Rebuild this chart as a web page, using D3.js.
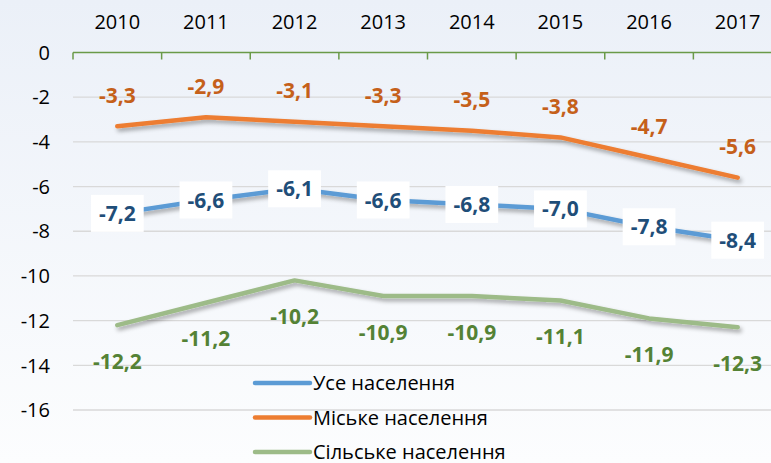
<!DOCTYPE html>
<html>
<head>
<meta charset="utf-8">
<script src="https://cdn.jsdelivr.net/npm/d3@7"></script>
<style>
  body { margin: 0; }
  svg { display: block; font-family: "Open Sans", "Noto Sans", sans-serif; }
</style>
</head>
<body>
<div id="container"></div>
<script>
/* DATA */
const years = ["2010", "2011", "2012", "2013", "2014", "2015", "2016", "2017"]
const allPop = [-7.2, -6.6, -6.1, -6.6, -6.8, -7.0, -7.8, -8.4]
const urbanPop = [-3.3, -2.9, -3.1, -3.3, -3.5, -3.8, -4.7, -5.6]
const ruralPop = [-12.2, -11.2, -10.2, -10.9, -10.9, -11.1, -11.9, -12.3]
const yTicks = [0, -2, -4, -6, -8, -10, -12, -14, -16]
const seriesNames = ["Усе населення", "Міське населення", "Сільське населення"]

/* CONSTANTS */
const width = 771,
  height = 463,
  margin = { top: 52.5, left: 73, right: -11, bottom: 53 }

const fmt = v => d3.format(".1f")(v).replace(".", ",").replace("−", "-")

const svg = d3.select("#container")
  .append("svg")
  .attr("width", width)
  .attr("height", height)

const defs = svg.append("defs")
const grad = defs.append("linearGradient")
  .attr("id", "bg")
  .attr("x1", 0).attr("y1", 0).attr("x2", 0).attr("y2", 1)
grad.append("stop").attr("offset", "0%").attr("stop-color", "#ebf0f8")
grad.append("stop").attr("offset", "100%").attr("stop-color", "#fcfdfe")

const shadow = defs.append("filter")
  .attr("id", "shadow")
  .attr("x", "-10%").attr("y", "-50%").attr("width", "120%").attr("height", "200%")
shadow.append("feDropShadow")
  .attr("dx", 2).attr("dy", 3)
  .attr("stdDeviation", 2)
  .attr("flood-color", "#000")
  .attr("flood-opacity", 0.35)

svg.append("rect")
  .attr("width", width)
  .attr("height", height)
  .attr("fill", "url(#bg)")

/* SCALES */
const xScale = d3.scaleBand()
  .domain(years)
  .range([margin.left, width - margin.right])
  .padding(0)

const yScale = d3.scaleLinear()
  .domain([0, -16])
  .range([margin.top, height - margin.bottom])

const xc = d => xScale(d) + xScale.bandwidth() / 2

// gridlines
svg.append("g")
  .selectAll("line")
  .data(yTicks.filter(d => d !== 0))
  .join("line")
  .attr("x1", margin.left)
  .attr("x2", width)
  .attr("y1", d => yScale(d))
  .attr("y2", d => yScale(d))
  .attr("stroke", "#d9d9d9")
  .attr("stroke-width", 1.3)

// y labels
svg.append("g")
  .selectAll("text")
  .data(yTicks)
  .join("text")
  .attr("x", 50)
  .attr("y", d => yScale(d))
  .attr("dy", "0.36em")
  .attr("text-anchor", "end")
  .attr("font-size", 20)
  .attr("fill", "#000")
  .text(d => d === 0 ? "0" : String(d))

// category axis at zero, labels on top
const axisG = svg.append("g")
axisG.append("line")
  .attr("x1", margin.left)
  .attr("x2", width)
  .attr("y1", yScale(0))
  .attr("y2", yScale(0))
  .attr("stroke", "#6a9a48")
  .attr("stroke-width", 1.5)
axisG.selectAll("line.tick")
  .data(years)
  .join("line")
  .attr("class", "tick")
  .attr("x1", d => xScale(d))
  .attr("x2", d => xScale(d))
  .attr("y1", yScale(0))
  .attr("y2", yScale(0) + 7)
  .attr("stroke", "#6a9a48")
  .attr("stroke-width", 1.5)
axisG.selectAll("text")
  .data(years)
  .join("text")
  .attr("x", d => xc(d))
  .attr("y", 22)
  .attr("dy", "0.36em")
  .attr("text-anchor", "middle")
  .attr("font-size", 20)
  .attr("fill", "#000")
  .text(d => d)

/* LINES */
const series = [
  { name: seriesNames[0], values: allPop, color: "#5b9bd5", label: "#1f4e79", pos: "center" },
  { name: seriesNames[1], values: urbanPop, color: "#ed7d31", label: "#c5601a", pos: "above" },
  { name: seriesNames[2], values: ruralPop, color: "#9dbb88", label: "#548235", pos: "below" }
]

const line = d3.line()
  .x((d, i) => xc(years[i]))
  .y(d => yScale(d))

const drawOrder = [series[2], series[0], series[1]]
svg.append("g")
  .selectAll("path")
  .data(drawOrder)
  .join("path")
  .attr("d", d => line(d.values))
  .attr("fill", "none")
  .attr("stroke", d => d.color)
  .attr("stroke-width", 4.5)
  .attr("stroke-linecap", "round")
  .attr("stroke-linejoin", "round")
  .attr("filter", "url(#shadow)")

/* DATA LABELS */
series.forEach(s => {
  const g = svg.append("g")
  s.values.forEach((v, i) => {
    const x = xc(years[i])
    let y = yScale(v)
    if (s.pos === "above") y -= 31
    if (s.pos === "below") y += 36
    const t = g.append("text")
      .attr("x", x)
      .attr("y", y)
      .attr("dy", "0.36em")
      .attr("text-anchor", "middle")
      .attr("font-size", 21)
      .attr("font-weight", "bold")
      .attr("fill", s.label)
      .text(fmt(v))
    if (s.pos === "center") {
      const bb = t.node().getBBox()
      g.insert("rect", () => t.node())
        .attr("x", x - bb.width / 2 - 8)
        .attr("y", yScale(v) - 18.5)
        .attr("width", bb.width + 16)
        .attr("height", 37)
        .attr("fill", "#fff")
    }
  })
})

/* LEGEND */
const legend = svg.append("g")
  .selectAll("g")
  .data(series)
  .join("g")
  .attr("transform", (d, i) => `translate(255, ${383 + i * 34.5})`)
legend.append("line")
  .attr("x1", 0).attr("x2", 55)
  .attr("stroke", d => d.color)
  .attr("stroke-width", 4.5)
  .attr("stroke-linecap", "round")
legend.append("text")
  .attr("x", 58)
  .attr("dy", "0.36em")
  .attr("font-size", 20)
  .attr("fill", "#000")
  .text(d => d.name)
</script>
</body>
</html>
